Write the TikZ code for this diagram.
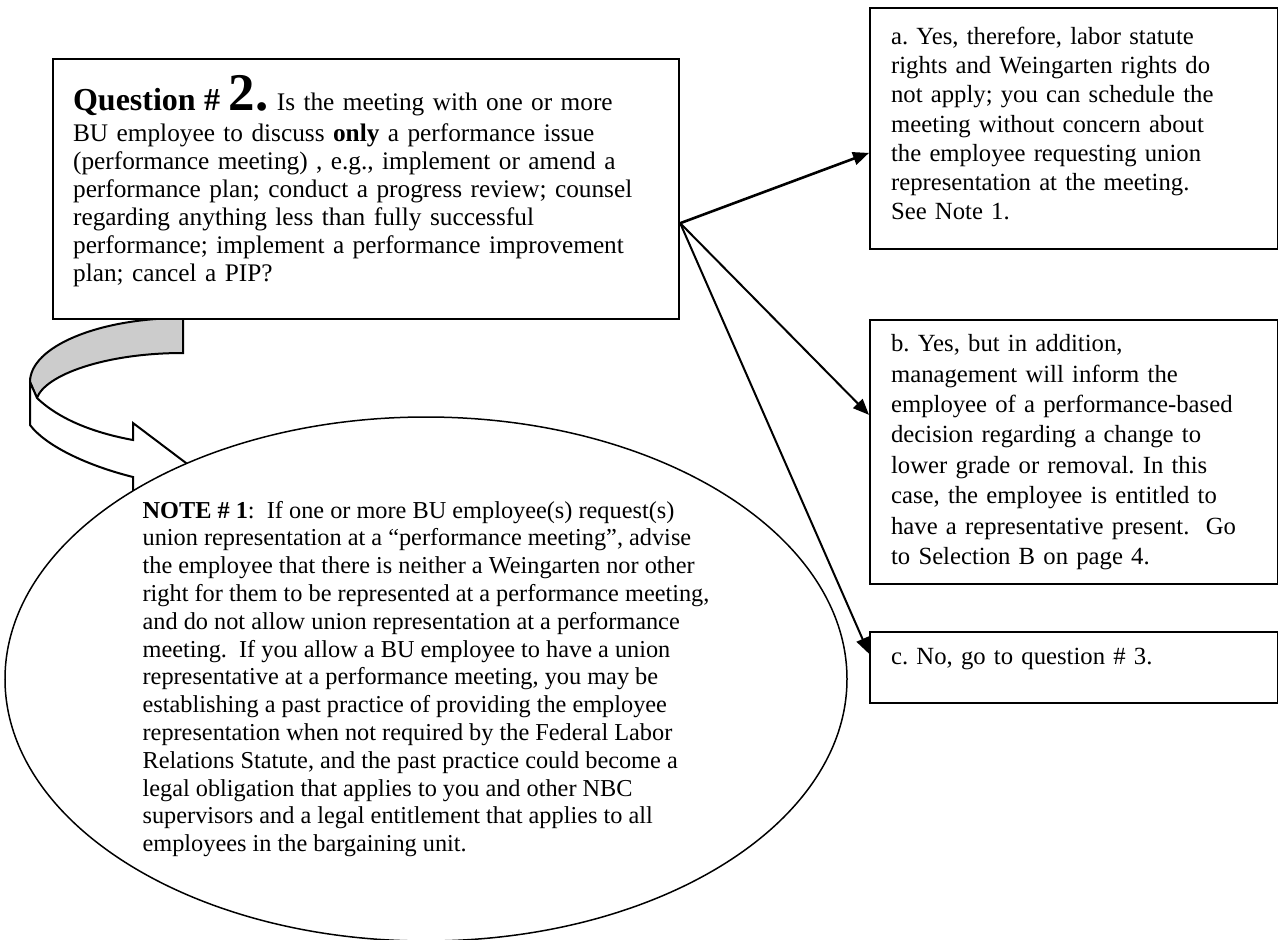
\documentclass[tikz,border=0pt]{standalone}
\usepackage{fontspec}
\setmainfont{Liberation Serif}
\usetikzlibrary{shapes.geometric,arrows.meta,calc}
\definecolor{bandgray}{HTML}{CCCCCC}
\frenchspacing
\newcommand{\liftby}[1]{\par\nointerlineskip\vbox to #1{}}
\begin{document}
\begin{tikzpicture}[x=1pt,y=-1pt,
  box/.style={draw,line width=2.2pt,anchor=north west,inner xsep=21pt,inner ysep=0pt,
    align=left,fill=white,font=\fontsize{24.7}{29.2}\selectfont},
  conn/.style={line width=2pt,-{Triangle[length=16pt,width=13pt]}},
  bandline/.style={line width=2pt,line join=miter},
]
\useasboundingbox (0,0) rectangle (1278,940);

% curved block arrow (drawn first, partly covered by the note ellipse)
\filldraw[bandline,fill=bandgray] (183,318) -- (183,353)
  .. controls (105,353) and (45,375) .. (37,398) -- (30,382)
  .. controls (30,346.7) and (98.5,318) .. (183,318) -- cycle;
\filldraw[bandline,fill=white] (37,398)
  .. controls (60,420) and (95,433) .. (133,440) -- (133,423) -- (190,466)
  -- (133,497) -- (133,477)
  .. controls (85,465) and (45,445) .. (30,425) -- (30,382) -- cycle;

% note ellipse
\node[ellipse,draw,line width=1.5pt,fill=white,minimum width=842pt,minimum height=524pt,
  inner sep=0pt,align=left,font=\fontsize{24.3}{27.8}\selectfont] (note) at (426,679)
{\textbf{NOTE \# 1}:\ \ If one or more BU employee(s) request(s)\\
union representation at a “performance meeting”, advise\\
the employee that there is neither a Weingarten nor other\\
right for them to be represented at a performance meeting,\\
and do not allow union representation at a performance\\
meeting.\ \ If you allow a BU employee to have a union\\
representative at a performance meeting, you may be\\
establishing a past practice of providing the employee\\
representation when not required by the Federal Labor\\
Relations Statute, and the past practice could become a\\
legal obligation that applies to you and other NBC\\
supervisors and a legal entitlement that applies to all\\
employees in the bargaining unit.};

% question box
\node[box,text width=586pt,inner xsep=20pt,minimum height=260pt,
  font=\fontsize{25.3}{28}\selectfont] (q) at (52,58)
{{\fontsize{32}{34}\selectfont\bfseries Question \# }{\fontsize{53}{53}\selectfont\bfseries 2.} Is the meeting with one or more\\[3pt]
BU employee to discuss \textbf{only} a performance issue\\
(performance meeting) , e.g., implement or amend a\\
performance plan; conduct a progress review; counsel\\
regarding anything less than fully successful\\
performance; implement a performance improvement\\
plan; cancel a PIP?\liftby{15pt}};

% answer boxes
\node[box,text width=366pt,minimum height=241pt] (a) at (869,7)
{a. Yes, therefore, labor statute\\
rights and Weingarten rights do\\
not apply; you can schedule the\\
meeting without concern about\\
the employee requesting union\\
representation at the meeting.\\
See Note 1.\liftby{10pt}};

\node[box,text width=366pt,minimum height=264pt,font=\fontsize{24.7}{30.4}\selectfont] (b) at (869,319)
{b. Yes, but in addition,\\
management will inform the\\
employee of a performance-based\\
decision regarding a change to\\
lower grade or removal. In this\\
case, the employee is entitled to\\
have a representative present.\ \ Go\\
to Selection B on page 4.};

\node[box,text width=366pt,minimum height=71pt,text depth=22pt] (c) at (869,631)
{c. No, go to question \# 3.};

% connectors
\coordinate (qo) at ($(q.north east)!0.63!(q.south east)$);
\coordinate (ain) at ($(a.north west)!0.60!(a.south west)$);
\coordinate (bin) at ($(b.north west)!0.36!(b.south west)$);
\coordinate (cin) at ($(c.north west)!0.31!(c.south west)$);
\draw[conn,line width=2.6pt] (qo) -- (ain);
\draw[conn] (qo) -- (bin);
\draw[conn] (qo) -- (cin);
\end{tikzpicture}
\end{document}
